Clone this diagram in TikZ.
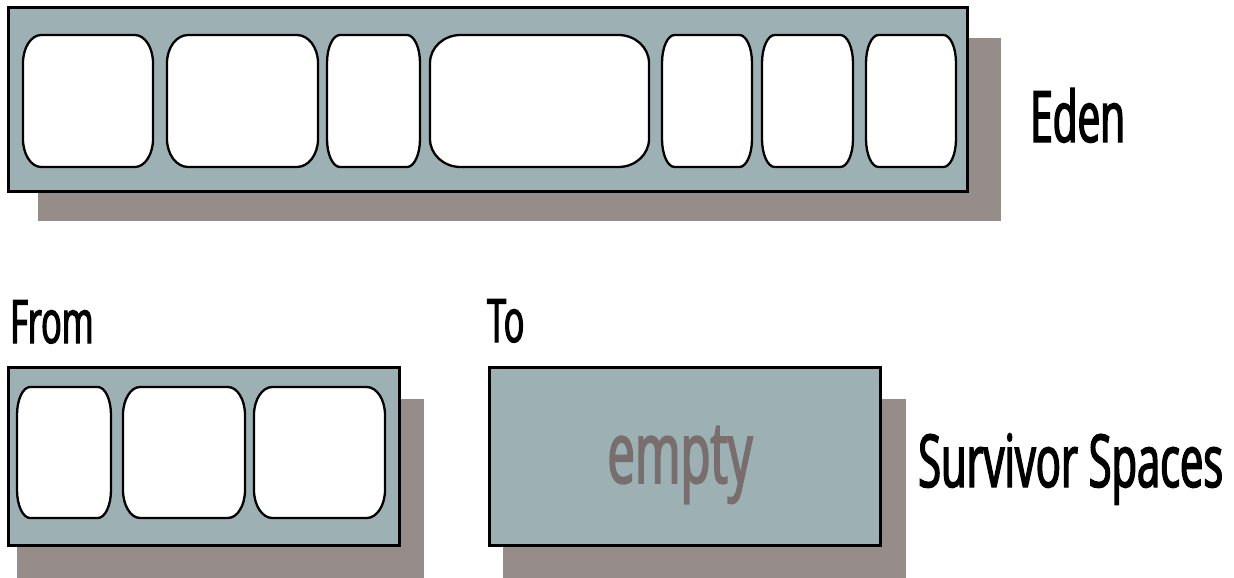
\documentclass[tikz,border=0pt]{standalone}
\usepackage{fontspec}
\newfontfamily\labelfont[FakeStretch=0.57, FakeBold=2]{Open Sans}

\definecolor{heapfill}{RGB}{157,176,180}
\definecolor{heapshadow}{RGB}{150,140,137}
\definecolor{emptytext}{RGB}{120,110,110}

\tikzset{
  space/.style={draw=black, line width=3pt, fill=heapfill},
  spaceshadow/.style={fill=heapshadow},
  cellline/.style={draw=black, line width=2.3pt, fill=white},
  heaplabel/.style={inner sep=0pt, text=black},
}

% one allocated object: box with elliptic corners
% #1,#2 = left/right, #3,#4 = top/bottom
\newcommand{\heapcell}[4]{%
  \pgfmathsetmacro{\rx}{0.14*(#2-#1)}
  \draw[cellline] (#1+\rx,#3) -- (#2-\rx,#3)
    arc[start angle=-90, end angle=0, x radius=\rx, y radius=28]
    -- (#2,#4-28)
    arc[start angle=0, end angle=90, x radius=\rx, y radius=28]
    -- (#1+\rx,#4)
    arc[start angle=90, end angle=180, x radius=\rx, y radius=28]
    -- (#1,#3+28)
    arc[start angle=180, end angle=270, x radius=\rx, y radius=28]
    -- cycle;
}

\begin{document}
\begin{tikzpicture}[x=1pt, y=-1pt]

    \useasboundingbox (0,0) rectangle (1234,578);

    %% Eden
    \fill[spaceshadow] (38,38) rectangle (1001,221);
    \draw[space] (8,8) rectangle (967,191);
    \foreach \xa/\xb in {23/153, 167/318, 327/420, 430/649, 662/752, 762/853, 866/956}
        \heapcell{\xa}{\xb}{35}{167};
    \node[heaplabel, anchor=base west, font=\labelfont\fontsize{71}{71}\selectfont]
        (eden) at (1030,142) {Eden};

    %% Survivor spaces
    % From
    \fill[spaceshadow] (17,399) rectangle (424,578);
    \draw[space] (8,367) rectangle (399,545);
    \foreach \xa/\xb in {17/111, 123/245, 254/385}
        \heapcell{\xa}{\xb}{387}{518};
    \node[heaplabel, anchor=base west, font=\labelfont\fontsize{60}{60}\selectfont]
        (from) at (10,343) {From};

    % To
    \fill[spaceshadow] (503,399) rectangle (906,578);
    \draw[space] (489,367) rectangle (880,545);
    \node[heaplabel, anchor=base, text=emptytext, font=\labelfont\fontsize{86}{86}\selectfont]
        (empty) at (680,483) {empty};
    \node[heaplabel, anchor=base west, font=\labelfont\fontsize{60}{60}\selectfont]
        (to) at (487,342) {To};

    \node[heaplabel, anchor=base west, font=\labelfont\fontsize{73}{73}\selectfont]
        (survivor) at (918,487) {Survivor Spaces};

\end{tikzpicture}
\end{document}
